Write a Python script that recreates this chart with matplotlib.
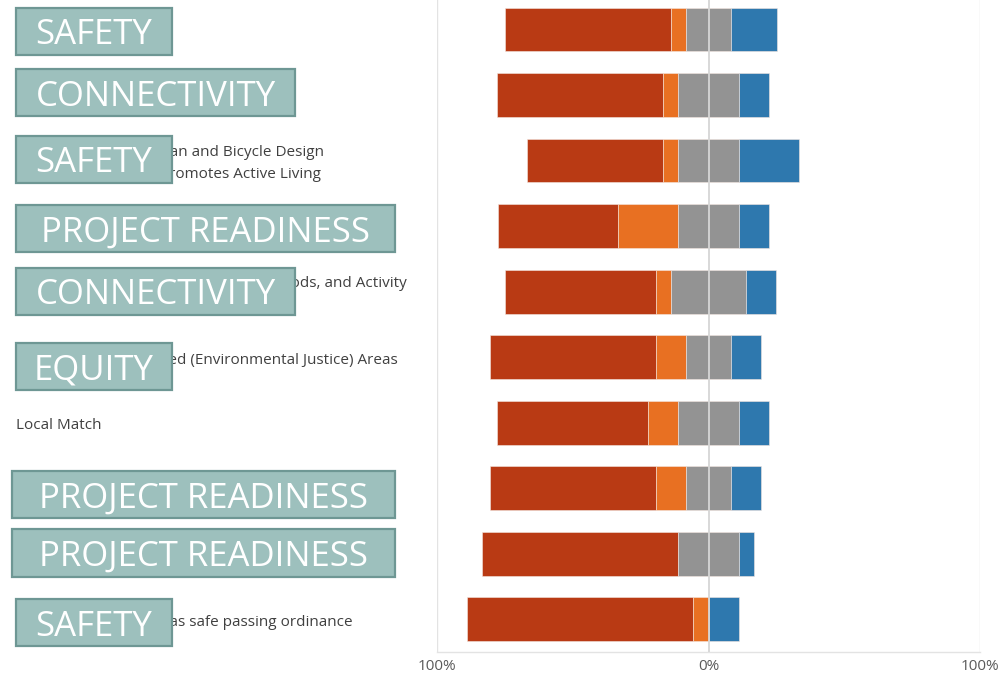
import matplotlib
matplotlib.use("Agg")
import matplotlib.pyplot as plt
import matplotlib.transforms as mtransforms
from matplotlib.patches import Rectangle

# ---- data (percent of responses) ----
criteria = [
    "Crash History",
    "Closes a Network Gap",
    "Incorporates Pedestrian and Bicycle Design\nRequirements, That Promotes Active Living",
    "Right-of-Way Secured",
    "Connects to Schools, Jobs, Neighborhoods, and Activity\nCenters",
    "Located in Underserved (Environmental Justice) Areas",
    "Local Match",
    "Design Is Complete",
    "Environmental Clearance",
    "Project Municipality has safe passing ordinance",
]
very_important = [61.1, 61.1, 50.0, 44.4, 55.6, 61.1, 55.6, 61.1, 72.2, 83.3]
important      = [5.6, 5.6, 5.6, 22.2, 5.6, 11.1, 11.1, 11.1, 0.0, 5.6]
neutral        = [16.7, 22.2, 22.2, 22.2, 27.8, 16.7, 22.2, 16.7, 22.2, 0.0]
not_important  = [16.7, 11.1, 22.2, 11.1, 11.1, 11.1, 11.1, 11.1, 5.6, 11.1]

x_ticks = [-100, 0, 100]
x_tick_labels = ["100%", "0%", "100%"]

# overlay category boxes
box_texts = ["SAFETY", "CONNECTIVITY", "SAFETY", "PROJECT READINESS", "CONNECTIVITY",
             "EQUITY", "PROJECT READINESS", "PROJECT READINESS", "SAFETY"]
# box pixel geometry (left, top, right, bottom) in image pixels
box_px = [(16, 8, 172, 55), (16, 69, 295, 116), (16, 136, 172, 183), (16, 205, 395, 252),
          (16, 268, 295, 315), (16, 343, 172, 390), (12, 471, 395, 518),
          (12, 529, 395, 577), (16, 599, 172, 646)]

colors = ["#B93A14", "#E87022", "#939393", "#2E78AE"]

W, H = 1003, 675
fig = plt.figure(figsize=(W / 100, H / 100), dpi=100)
ax = fig.add_axes([437 / W, (H - 652) / H, 543 / W, 652 / H])

n = len(criteria)
ys = list(range(n))
series = [very_important, important, neutral, not_important]
for i in range(n):
    left = -(very_important[i] + important[i] + neutral[i] / 2.0)
    for s, c in zip(series, colors):
        v = s[i]
        if v > 0:
            ax.barh(ys[i], v, left=left, height=0.67, color=c,
                    edgecolor="#f3e6e0", linewidth=0.4, zorder=2)
        left += v

ax.set_xlim(-100, 100)
ax.set_ylim(n - 0.5, -0.45)
for sp in ["top", "left", "right"]:
    ax.spines[sp].set_visible(False)
ax.spines["bottom"].set_color("#e3e3e3")
ax.spines["bottom"].set_linewidth(1.0)
ax.set_yticks([])
ax.set_xticks(x_ticks)
ax.set_xticklabels(x_tick_labels, fontsize=11, color="#5a5a5a", family="Open Sans")
ax.tick_params(axis="x", length=0, pad=5)
for xv in (-100, 100):
    ax.axvline(xv, color="#e3e3e3", lw=1.0, zorder=1)
ax.axvline(0, color="#d6d6d6", lw=1.3, zorder=3)

# category labels, left-aligned at the figure's left
trans = mtransforms.blended_transform_factory(fig.transFigure, ax.transData)
trans = trans + mtransforms.ScaledTranslation(0, -3 / 100, fig.dpi_scale_trans)
for i, lab in enumerate(criteria):
    ax.text(16 / W, ys[i], lab, transform=trans, ha="left", va="center",
            fontsize=11, color="#404040", family="Open Sans",
            linespacing=1.7, clip_on=False)

# overlay boxes
for txt, (l, t, r, b) in zip(box_texts, box_px):
    rect = Rectangle((l / W, 1 - b / H), (r - l) / W, (b - t) / H,
                     transform=fig.transFigure, facecolor="#9DC0BD",
                     edgecolor="#6E9794", linewidth=1.6, zorder=10)
    fig.add_artist(rect)
    base = (t + b) / 2 + 13
    fig.text((l + r) / 2 / W, 1 - base / H, txt, ha="center", va="baseline",
             fontsize=25, color="white", family="Open Sans", zorder=11)

fig.savefig("out.png", dpi=100)
